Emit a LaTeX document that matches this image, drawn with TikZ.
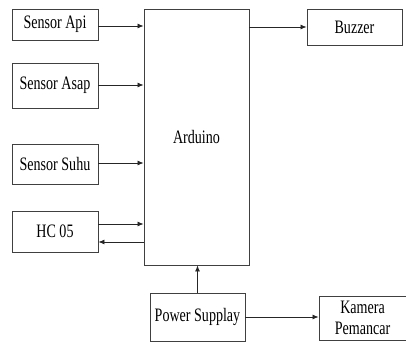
\documentclass[tikz,border=0pt]{standalone}
\usepackage{fontspec}
\setmainfont[FakeStretch=0.74]{Liberation Serif}
\usetikzlibrary{arrows.meta}
\begin{document}
\begin{tikzpicture}[x=1pt,y=-1pt,
  blk/.style={draw=black!75,line width=0.9pt,inner sep=0pt,font=\fontsize{19}{21}\selectfont,align=center},
  conn/.style={draw=black!85,line width=0.8pt,-{Latex[length=6pt,width=5pt]}}]
\useasboundingbox[fill=white] (0,0) rectangle (406,342);
\node[blk,minimum width=86pt,minimum height=31pt] (api) at (55,24.5) {Sensor Api};
\node[blk,minimum width=86pt,minimum height=45pt] (asap) at (55,85.5) {Sensor Asap};
\node[blk,minimum width=86pt,minimum height=40pt] (suhu) at (55,164) {Sensor Suhu};
\node[blk,minimum width=86pt,minimum height=41pt] (hc) at (55,231.5) {HC 05};
\node[blk,minimum width=105pt,minimum height=256pt] (ard) at (196.5,137) {Arduino};
\node[blk,minimum width=95pt,minimum height=36pt] (buz) at (354.5,27) {Buzzer};
\node[blk,minimum width=95pt,minimum height=48pt] (ps) at (197.5,317) {Power Supplay};
\node[blk,minimum width=87pt,minimum height=44pt] (kam) at (362.5,318) {Kamera\\Pemancar};
\draw[conn] (api.east |- 0,26) -- (ard.west |- 0,26);
\draw[conn] (asap.east |- 0,85) -- (ard.west |- 0,85);
\draw[conn] (suhu.east |- 0,163) -- (ard.west |- 0,163);
\draw[conn] (hc.east |- 0,224) -- (ard.west |- 0,224);
\draw[conn] (ard.west |- 0,242) -- (hc.east |- 0,242);
\draw[conn] (ard.east |- 0,27) -- (buz.west |- 0,27);
\draw[conn] (ps.north) -- (ard.south -| ps.north);
\draw[conn] (ps.east |- 0,317) -- (kam.west |- 0,317);
\end{tikzpicture}
\end{document}
